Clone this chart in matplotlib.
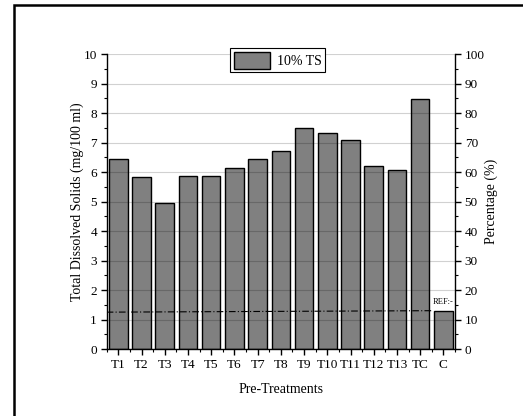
import matplotlib
matplotlib.use("Agg")
import matplotlib.pyplot as plt
import matplotlib.ticker as ticker
from matplotlib.patches import Rectangle

plt.rcParams['font.family'] = ['Liberation Serif', 'DejaVu Serif']
plt.rcParams['mathtext.fontset'] = 'stix'

# Total dissolved solids per pre-treatment (mg/100 ml)
treatments = ["T1", "T2", "T3", "T4", "T5", "T6", "T7", "T8", "T9",
              "T10", "T11", "T12", "T13", "TC", "C"]
tds = [6.44, 5.83, 4.94, 5.85, 5.88, 6.14, 6.45, 6.70, 7.51,
       7.33, 7.10, 6.22, 6.08, 8.47, 1.30]

# Reference level (dash-dot line across the bars)
ref_x = [-0.5, 13.55]
ref_y = [1.25, 1.30]

fig = plt.figure(figsize=(5.23, 4.16), dpi=100)
ax = fig.add_axes([0.204, 0.161, 0.666, 0.709])

x = range(len(treatments))
ax.bar(x, tds, width=0.8, color="#808080", edgecolor="black",
       linewidth=1.0, label="10% TS", zorder=2)

ax.plot(ref_x, ref_y, color="black", linestyle=(0, (6, 2, 1, 2)),
        linewidth=0.8, zorder=4)
ax.text(14, ref_y[1] + 0.15, "REF:-", fontsize=6, ha="center", va="bottom",
        zorder=5)

ax.set_xlim(-0.5, 14.5)
ax.set_ylim(0, 10)
ax.yaxis.set_major_locator(ticker.MultipleLocator(1))
ax.yaxis.set_minor_locator(ticker.MultipleLocator(0.5))
ax.set_xticks(list(x))
ax.set_xticklabels(treatments)
ax.xaxis.set_minor_locator(ticker.FixedLocator([i + 0.5 for i in range(-1, 15)]))

ax.grid(axis="y", which="major", color="black", alpha=0.18, linewidth=0.8,
        zorder=3)
ax.set_axisbelow(False)

for s in ["top", "right"]:
    ax.spines[s].set_visible(False)
for s in ["left", "bottom"]:
    ax.spines[s].set_linewidth(1.0)

ax.tick_params(which="major", direction="out", length=4, width=1,
               labelsize=9.5, pad=3)
ax.tick_params(which="minor", direction="out", length=2.5, width=0.8)

ax.set_ylabel("Total Dissolved Solids (mg/100 ml)", fontsize=10, labelpad=0)
ax.set_xlabel("Pre-Treatments", fontsize=10, labelpad=9)

ax2 = ax.twinx()
ax2.set_ylim(0, 100)
ax2.yaxis.set_major_locator(ticker.MultipleLocator(10))
ax2.yaxis.set_minor_locator(ticker.MultipleLocator(5))
ax2.spines["top"].set_visible(False)
ax2.spines["left"].set_visible(False)
ax2.spines["bottom"].set_visible(False)
ax2.spines["right"].set_linewidth(1.0)
ax2.tick_params(which="major", direction="out", length=4, width=1,
                labelsize=9.5, pad=3)
ax2.tick_params(which="minor", direction="out", length=2.5, width=0.8)
ax2.set_ylabel("Percentage (%)", fontsize=10, labelpad=0)

leg = ax.legend(loc="upper left", bbox_to_anchor=(0.355, 1.02),
                fontsize=10, fancybox=False, framealpha=1,
                edgecolor="black", handlelength=2.6, handleheight=1.5,
                borderpad=0.25, handletextpad=0.5, borderaxespad=0)
leg.get_frame().set_linewidth(0.8)

# Outer frame around the figure
fig.patches.append(Rectangle((14 / 523, -0.2), 1.2, 1.188,
                             transform=fig.transFigure, fill=False,
                             edgecolor="black", linewidth=1.8))

fig.savefig("out.png", dpi=100)
